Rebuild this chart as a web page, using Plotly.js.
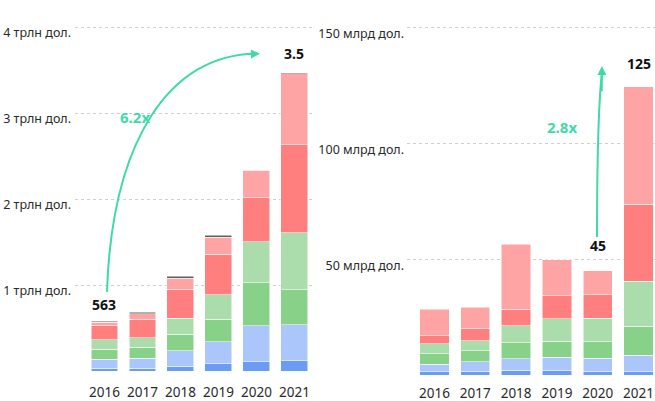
<!DOCTYPE html>
<html>
<head>
<meta charset="utf-8">
<script src="https://cdn.plot.ly/plotly-3.0.1.min.js"></script>
<style>html,body{margin:0;padding:0;background:#fff;}#chart{width:655px;height:401px;}</style>
</head>
<body>
<div id="chart"></div>
<script>
// ---- data ----
const years = ['2016', '2017', '2018', '2019', '2020', '2021'];

// left chart, trillions of dollars
const leftDarkBlue   = [0.031, 0.031, 0.054, 0.086, 0.105, 0.120];
const leftLightBlue  = [0.108, 0.116, 0.179, 0.257, 0.420, 0.415];
const leftGreen      = [0.116, 0.128, 0.195, 0.261, 0.500, 0.407];
const leftLightGreen = [0.108, 0.112, 0.183, 0.280, 0.477, 0.666];
const leftRed        = [0.171, 0.214, 0.342, 0.475, 0.510, 1.020];
const leftPink       = [0.031, 0.062, 0.125, 0.195, 0.320, 0.830];
const leftGray       = [0.015, 0.020, 0.023, 0.023, 0.008, 0.008];

// right chart, billions of dollars
const rightDarkBlue   = [1.4, 1.6, 2.0, 1.9, 1.7, 1.4];
const rightLightBlue  = [3.2, 4.2, 5.0, 5.8, 5.6, 7.2];
const rightGreen      = [4.5, 4.6, 6.9, 6.9, 7.1, 12.5];
const rightLightGreen = [4.3, 4.3, 7.3, 9.8, 10.1, 19.5];
const rightRed        = [3.5, 5.2, 7.2, 9.8, 10.1, 33.3];
const rightPink       = [11.5, 9.4, 28.1, 15.7, 10.5, 50.6];

const leftTickVals  = [0, 1, 2, 3, 4];
const leftTickText  = ['', '1 трлн дол.', '2 трлн дол.', '3 трлн дол.', '4 трлн дол.'];
const rightTickVals = [0, 50, 100, 150];
const rightTickText = ['', '50 млрд дол.', '100 млрд дол.', '150 млрд дол.'];

const leftValueLabels  = ['563', '', '', '', '', '3.5'];
const rightValueLabels = ['', '', '', '', '45', '125'];
const leftGrowth  = '6.2x';
const rightGrowth = '2.8x';

// ---- styling ----
const C = {
  darkBlue: '#6b9cf3', lightBlue: '#abc6fa', green: '#88d188', lightGreen: '#abdcab',
  red: '#ff7e7e', pink: '#ffa4a4', gray: '#5c5c5c'
};
const teal = '#3fdaa8';
const FONT = 'Noto Sans, Open Sans, sans-serif';
const segLine = {color: 'rgba(255,255,255,0.65)', width: 0.8};

function bar(y, color, xa, ya, w) {
  return {type: 'bar', x: years, y: y, xaxis: xa, yaxis: ya, width: w,
          marker: {color: color, line: segLine}, hoverinfo: 'skip'};
}
const data = [
  bar(leftDarkBlue, C.darkBlue, 'x', 'y', 0.71),
  bar(leftLightBlue, C.lightBlue, 'x', 'y', 0.71),
  bar(leftGreen, C.green, 'x', 'y', 0.71),
  bar(leftLightGreen, C.lightGreen, 'x', 'y', 0.71),
  bar(leftRed, C.red, 'x', 'y', 0.71),
  bar(leftPink, C.pink, 'x', 'y', 0.71),
  bar(leftGray, C.gray, 'x', 'y', 0.71),
  bar(rightDarkBlue, C.darkBlue, 'x2', 'y2', 0.72),
  bar(rightLightBlue, C.lightBlue, 'x2', 'y2', 0.72),
  bar(rightGreen, C.green, 'x2', 'y2', 0.72),
  bar(rightLightGreen, C.lightGreen, 'x2', 'y2', 0.72),
  bar(rightRed, C.red, 'x2', 'y2', 0.72),
  bar(rightPink, C.pink, 'x2', 'y2', 0.72)
];

const sum = arrs => years.map((_, i) => arrs.reduce((s, a) => s + a[i], 0));
const leftTotals  = sum([leftDarkBlue, leftLightBlue, leftGreen, leftLightGreen, leftRed, leftPink, leftGray]);
const rightTotals = sum([rightDarkBlue, rightLightBlue, rightGreen, rightLightGreen, rightRed, rightPink]);

const annotations = [];
const leftShift = [5, 0, 0, 0, 0, 8];
const rightShift = [0, 0, 0, 0, 14, 12];
years.forEach((yr, i) => {
  if (leftValueLabels[i]) annotations.push({xref: 'x', yref: 'y', x: i, y: leftTotals[i], text: '<b>' + leftValueLabels[i] + '</b>',
    showarrow: false, yanchor: 'bottom', yshift: leftShift[i], font: {family: FONT, size: 14, color: '#111'}});
  if (rightValueLabels[i]) annotations.push({xref: 'x2', yref: 'y2', x: i, y: rightTotals[i], text: '<b>' + rightValueLabels[i] + '</b>',
    showarrow: false, yanchor: 'bottom', yshift: rightShift[i], font: {family: FONT, size: 14, color: '#111'}});
});
annotations.push({xref: 'x', yref: 'y', x: 0.80, y: 2.95, text: '<b>' + leftGrowth + '</b>', showarrow: false,
  font: {family: FONT, size: 15, color: teal}});
annotations.push({xref: 'x2', yref: 'y2', x: 3.125, y: 107.2, text: '<b>' + rightGrowth + '</b>', showarrow: false,
  font: {family: FONT, size: 15, color: teal}});
// arrow heads
annotations.push({xref: 'x', yref: 'y', axref: 'x', ayref: 'y', x: 4.09, y: 3.69, ax: 3.8, ay: 3.685, text: '',
  showarrow: true, arrowhead: 2, arrowsize: 0.9, arrowwidth: 2, arrowcolor: teal});
annotations.push({xref: 'x2', yref: 'y2', axref: 'x2', ayref: 'y2', x: 4.105, y: 133.5, ax: 4.098, ay: 122, text: '',
  showarrow: true, arrowhead: 2, arrowsize: 0.9, arrowwidth: 2, arrowcolor: teal});

const shapes = [
  {type: 'path', xref: 'x', yref: 'y', path: 'M 0.066,0.92 C 0.197,2.686 1.724,3.686 4.0,3.69',
   line: {color: teal, width: 2}},
  {type: 'path', xref: 'x2', yref: 'y2', path: 'M 3.983,59.6 Q 3.983,110.8 4.103,131',
   line: {color: teal, width: 2}}
];

const axisFont = {family: FONT, size: 12.5, color: '#2a2a2a'};
const yearFont = {family: FONT, size: 13.5, color: '#2a2a2a'};
const layout = {
  width: 655, height: 401,
  margin: {l: 0, r: 0, t: 0, b: 0},
  paper_bgcolor: '#fff', plot_bgcolor: '#fff',
  showlegend: false, barmode: 'stack',
  xaxis: {domain: [75 / 655, 315 / 655], anchor: 'y', type: 'category', range: [-0.776, 5.54],
          showgrid: false, zeroline: false, showline: false, ticks: '', ticklabelstandoff: 11,
          tickfont: yearFont, fixedrange: true},
  yaxis: {domain: [30 / 401, 1], anchor: 'x', range: [0, 371 / 86], tickvals: leftTickVals, ticktext: leftTickText,
          showgrid: true, gridcolor: '#cfcfcf', griddash: 'dot', gridwidth: 1, zeroline: false, showline: false,
          ticks: '', ticklabelshift: 6, ticklabelstandoff: 3, tickfont: axisFont, fixedrange: true},
  xaxis2: {domain: [407 / 655, 1], anchor: 'y2', type: 'category', range: [-0.674, 5.404],
          showgrid: false, zeroline: false, showline: false, ticks: '', ticklabelstandoff: 8,
          tickfont: yearFont, fixedrange: true},
  yaxis2: {domain: [26 / 401, 1], anchor: 'x2', range: [0, 375 / 2.314], tickvals: rightTickVals, ticktext: rightTickText,
          showgrid: true, gridcolor: '#cfcfcf', griddash: 'dot', gridwidth: 1, zeroline: false, showline: false,
          ticks: '', ticklabelshift: 6, ticklabelstandoff: 2, tickfont: axisFont, fixedrange: true},
  annotations: annotations,
  shapes: shapes,
  bargap: 0.29
};

Plotly.newPlot('chart', data, layout, {displayModeBar: false, staticPlot: true});
</script>
</body>
</html>
